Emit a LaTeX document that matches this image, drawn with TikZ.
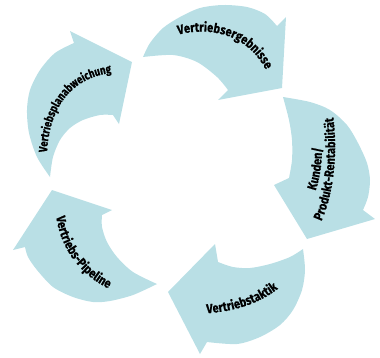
\documentclass[tikz,border=0pt]{standalone}
\usepackage{fontspec}
\usetikzlibrary{decorations.text}
\newfontfamily\cyclefont[FakeStretch=0.85,FakeBold=0.6]{Fira Sans}
\newfontfamily\cyclefontnarrow[FakeStretch=0.8,FakeBold=0.6]{Fira Sans}
\newcommand{\cyclelabel}{\cyclefont\bfseries\fontsize{13}{13}\selectfont}
\newcommand{\cyclelabelnarrow}{\cyclefontnarrow\bfseries\fontsize{12}{12}\selectfont}
\definecolor{cycleblue}{RGB}{185,223,229}

\begin{document}
\begin{tikzpicture}[x=1pt, y=-1pt,
    arrowbody/.style={fill=cycleblue},
    arrowlabel/.style={decorate, decoration={text along path, text align=center, text color=black}}]
  \useasboundingbox (0,0) rectangle (380,357);

  % Vertriebsplanabweichung (upper left)
  \fill[arrowbody] plot[smooth] coordinates {(50,177) (37,157) (29,133) (27,110) (30,90) (40,70) (55,53) (74,43)}
    -- (70,31) -- (132,62) -- (119,124)
    -- plot[smooth] coordinates {(113,115) (100,115) (83,120) (70,128) (60,140) (53,157) (50,177)} -- cycle;
  \path[arrowlabel, decoration={text={|\cyclelabelnarrow|Vertriebsplanabweichung}}]
    (47,166) .. controls (45,108) and (72,72) .. (125,72);

  % Vertriebsergebnisse (top)
  \fill[arrowbody] plot[smooth] coordinates {(143,57) (150,43) (163,28) (180,17) (200,8) (223,5) (247,7) (265,14) (277,26)}
    -- (286,17) -- (282,88) -- (218,100)
    -- plot[smooth] coordinates {(228,90) (217,77) (197,62) (173,55) (143,57)} -- cycle;
  \path[arrowlabel, decoration={text={|\cyclelabel|Vertriebsergebnisse}}]
    (168,38) .. controls (210,22) and (255,36) .. (270,80);

  % Kunden/Produkt-Rentabilitaet (right)
  \fill[arrowbody] plot[smooth] coordinates {(283,97) (310,102) (330,110) (347,125) (358,143) (367,163) (370,180) (368,197) (363,210)}
    -- (375,219) -- (307,239) -- (274,185)
    -- plot[smooth] coordinates {(289,178) (292,160) (292,140) (289,120) (283,97)} -- cycle;
  \path[arrowlabel, decoration={text={|\cyclelabel|Kunden/}}]
    (303,215) .. controls (322,190) and (326,150) .. (318,120);
  \path[arrowlabel, decoration={text={|\cyclelabel|Produkt-Rentabilität}}]
    (314,235) .. controls (334,205) and (340,150) .. (331,102);

  % Vertriebstaktik (bottom)
  \fill[arrowbody] plot[smooth] coordinates {(303,249) (305,270) (302,290) (293,310) (280,325) (260,337) (237,344) (207,342)}
    -- (200,354) -- (168,292) -- (215,244)
    -- plot[smooth] coordinates {(218,262) (233,267) (250,268) (270,264) (290,257) (303,249)} -- cycle;
  \path[arrowlabel, decoration={text={|\cyclelabel|Vertriebstaktik}}]
    (188,314) .. controls (230,314) and (265,305) .. (292,276);

  % Vertriebs-Pipeline (lower left)
  \fill[arrowbody] plot[smooth] coordinates {(157,284) (133,295) (110,301) (93,302) (73,297) (53,287) (37,270) (28,257) (25,247)}
    -- (13,250) -- (52,190) -- (112,210)
    -- plot[smooth] coordinates {(102,215) (102,227) (107,242) (117,257) (133,272) (157,284)} -- cycle;
  \path[arrowlabel, decoration={text={|\cyclelabel|Vertriebs-Pipeline}}]
    (55,200) .. controls (55,250) and (85,282) .. (124,295);
\end{tikzpicture}
\end{document}
